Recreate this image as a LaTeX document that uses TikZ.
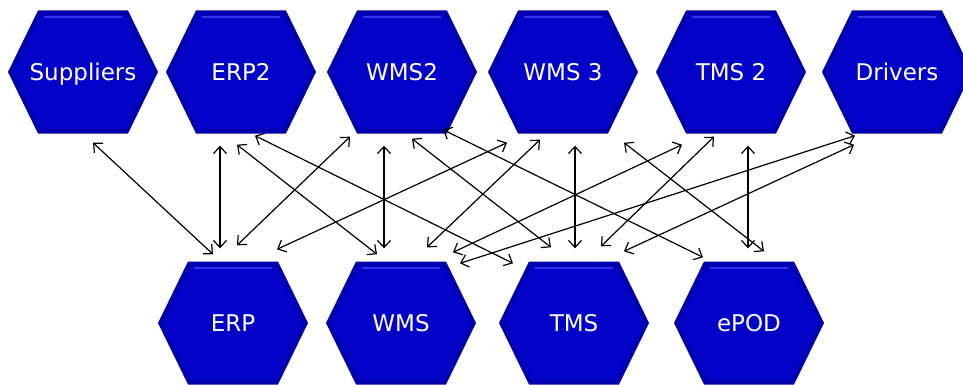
\documentclass[tikz,border=0pt]{standalone}
\usepackage{fontspec}
\usepackage{tikz}
\usetikzlibrary{arrows.meta}
\newfontfamily\hexfont{DejaVu Sans}
\definecolor{hexedge}{RGB}{0,0,172}
\definecolor{hexbody}{RGB}{2,2,200}
\definecolor{hexlight}{RGB}{50,50,230}

\begin{document}
\begin{tikzpicture}[x=1pt, y=-1pt,
    hexa/.style={minimum width=150pt, minimum height=123pt, inner sep=0pt, text=white,
      font=\hexfont\fontsize{23}{23}\selectfont, text height=17pt, text depth=0pt,
      path picture={
        \coordinate (hc) at (path picture bounding box.center);
        \fill[hexedge] ([xshift=-75pt]hc) -- ([xshift=-45pt,yshift=61.5pt]hc) -- ([xshift=45pt,yshift=61.5pt]hc)
          -- ([xshift=75pt]hc) -- ([xshift=45pt,yshift=-61.5pt]hc) -- ([xshift=-45pt,yshift=-61.5pt]hc) -- cycle;
        \fill[hexbody] ([xshift=-70pt]hc) -- ([xshift=-42pt,yshift=57pt]hc) -- ([xshift=42pt,yshift=57pt]hc)
          -- ([xshift=70pt]hc) -- ([xshift=42pt,yshift=-57pt]hc) -- ([xshift=-42pt,yshift=-57pt]hc) -- cycle;
        \draw[hexlight, line width=1.5pt] ([xshift=-39pt,yshift=55pt]hc) -- ([xshift=39pt,yshift=55pt]hc);
      }},
    link/.style={<->, >={Straight Barb[length=7pt, width=13pt]}, line width=1.2pt}]
  \useasboundingbox (0,0) rectangle (963,385);

  \node[hexa] (sup) at (83,72) {Suppliers};
  \node[hexa] (erp2) at (241,72) {ERP2};
  \node[hexa] (wms2) at (402,72) {WMS2};
  \node[hexa] (wms3) at (563,72) {WMS 3};
  \node[hexa] (tms2) at (731,72) {TMS 2};
  \node[hexa] (drv) at (897,72) {Drivers};

  \node[hexa] (erp) at (233,323) {ERP};
  \node[hexa] (wms) at (401,323) {WMS};
  \node[hexa] (tms) at (574,323) {TMS};
  \node[hexa] (epod) at (749,323) {ePOD};

  \draw[link] ([shift={(10,9)}]sup.south) -- ([shift={(-20,-7)}]erp.north);
  \draw[link] ([shift={(-21,12)}]erp2.south) -- ([shift={(-13,-13)}]erp.north);
  \draw[link] ([shift={(-4,11)}]erp2.south) -- ([shift={(-24,-7)}]wms.north);
  \draw[link] ([shift={(14,2)}]erp2.south) -- ([shift={(-61,2)}]tms.north);
  \draw[link] ([shift={(-52,3)}]wms2.south) -- ([shift={(4,-16)}]erp.north);
  \draw[link] ([shift={(-18,12)}]wms2.south) -- ([shift={(-17,-13)}]wms.north);
  \draw[link] ([shift={(10,5)}]wms2.south) -- ([shift={(-23,-14)}]tms.north);
  \draw[link] ([shift={(41,-4)}]wms2.south) -- ([shift={(-46,-4)}]epod.north);
  \draw[link] ([shift={(-56,9)}]wms3.south) -- ([shift={(44,-12)}]erp.north);
  \draw[link] ([shift={(-23,6)}]wms3.south) -- ([shift={(26,-14)}]wms.north);
  \draw[link] ([shift={(12,12)}]wms3.south) -- ([shift={(1,-13)}]tms.north);
  \draw[link] ([shift={(61,9)}]wms3.south) -- ([shift={(15,-10)}]epod.north);
  \draw[link] ([shift={(-49,11)}]tms2.south) -- ([shift={(52,-9)}]wms.north);
  \draw[link] ([shift={(-17,3)}]tms2.south) -- ([shift={(27,-15)}]tms.north);
  \draw[link] ([shift={(17,12)}]tms2.south) -- ([shift={(-1,-13)}]epod.north);
  \draw[link] ([shift={(-42,2)}]drv.south) -- ([shift={(59,2)}]wms.north);
  \draw[link] ([shift={(-43,11)}]drv.south) -- ([shift={(50,-10)}]tms.north);
\end{tikzpicture}
\end{document}
